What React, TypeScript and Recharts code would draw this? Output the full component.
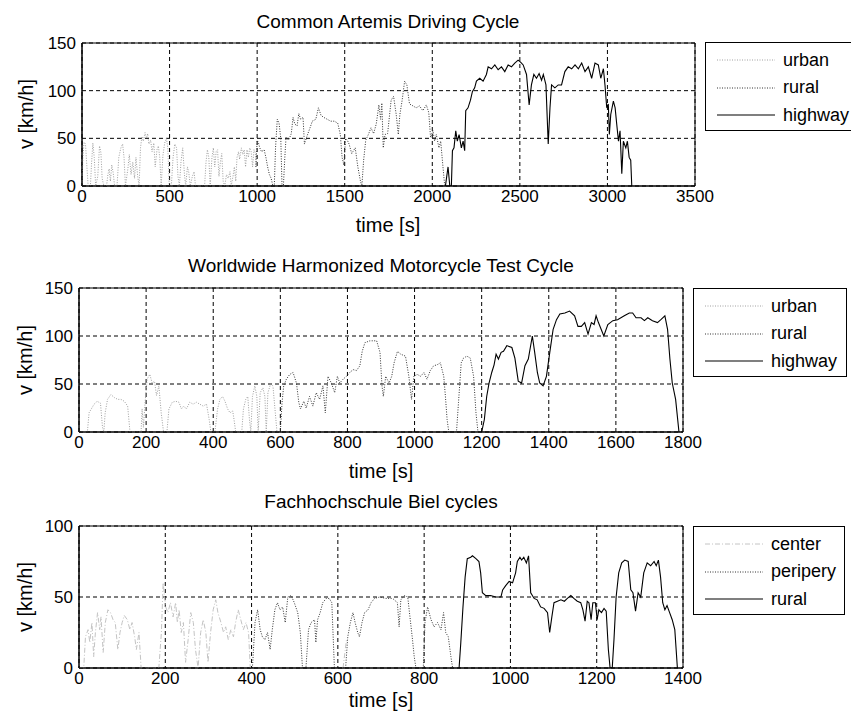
import { LineChart, Line, XAxis, YAxis, CartesianGrid, ReferenceArea } from 'recharts';

type Pt = [number, number | null];

// Common Artemis Driving Cycle (t [s], v [km/h])
const cadcUrban: Pt[] = [
  [0, 0], [5, 30], [12, 46], [20, 44], [28, 20], [35, 0], [48, 0], [55, 25], [62, 45], [70, 30], [78, 0],
  [90, 10], [100, 42], [108, 35], [115, 8], [125, 0], [140, 0], [148, 12], [155, 18], [162, 5], [170, 22],
  [178, 14], [186, 0], [200, 0], [210, 30], [222, 40], [232, 44], [240, 30], [248, 0], [262, 18], [270, 33],
  [280, 12], [290, 25], [300, 8], [308, 30], [318, 10], [326, 0], [334, 40], [342, 52], [350, 47], [360, 56],
  [368, 50], [375, 55], [382, 44], [392, 48], [400, 36], [410, 45], [418, 20], [428, 38], [436, 42], [444, 30],
  [452, 0], [462, 32], [472, 45], [482, 50], [490, 40], [498, 0], [510, 0], [520, 30], [530, 44], [540, 40],
  [548, 10], [556, 0], [565, 25], [575, 40], [585, 12], [592, 0], [602, 20], [610, 14], [618, 0], [630, 10],
  [640, 15], [648, 0], [700, 0], [708, 25], [716, 38], [724, 30], [732, 0], [742, 30], [750, 40], [758, 20],
  [766, 36], [774, 38], [782, 10], [790, 25], [798, 34], [806, 5], [815, 0], [825, 12], [835, 8], [845, 15],
  [852, 0], [862, 10], [870, 20], [878, 5], [885, 30], [894, 36], [900, 28], [910, 40], [918, 33], [926, 38],
  [934, 20], [942, 38], [950, 30], [958, 40], [966, 36], [974, 20], [982, 38], [990, 35], [993, 20],
];
const cadcRural: Pt[] = [
  [993, 20], [1000, 48], [1008, 45], [1015, 40], [1025, 36], [1040, 38], [1050, 30], [1060, 20], [1070, 12],
  [1080, 8], [1090, 0], [1098, 0], [1105, 40], [1115, 70], [1125, 66], [1135, 50], [1142, 0], [1150, 0],
  [1158, 30], [1165, 51], [1180, 48], [1195, 55], [1205, 72], [1215, 65], [1228, 63], [1238, 76], [1248, 70],
  [1262, 72], [1270, 44], [1282, 51], [1300, 60], [1315, 68], [1335, 70], [1350, 82], [1365, 74], [1380, 72],
  [1400, 70], [1420, 68], [1440, 68], [1460, 66], [1475, 54], [1485, 30], [1495, 22], [1505, 50], [1515, 48],
  [1525, 44], [1540, 34], [1560, 40], [1575, 20], [1590, 5], [1598, 0], [1608, 27], [1620, 48], [1635, 54],
  [1650, 61], [1665, 55], [1680, 65], [1695, 85], [1705, 70], [1712, 87], [1720, 40], [1730, 54], [1745, 55],
  [1765, 90], [1779, 94], [1794, 75], [1806, 54], [1815, 75], [1828, 90], [1842, 110], [1855, 106], [1870, 86],
  [1890, 84], [1908, 82], [1927, 84], [1946, 79], [1966, 85], [1980, 77], [1990, 51], [2004, 58], [2013, 47],
  [2023, 54], [2038, 40], [2048, 47], [2061, 20], [2071, 0],
];
const cadcHighway: Pt[] = [
  [2075, 0], [2090, 20], [2100, 0], [2109, 0], [2115, 37], [2124, 40], [2134, 58], [2143, 47], [2153, 54],
  [2166, 40], [2176, 47], [2185, 37], [2191, 79], [2204, 82], [2218, 90], [2229, 99], [2242, 103], [2252, 110],
  [2271, 113], [2290, 110], [2309, 117], [2319, 125], [2338, 123], [2357, 127], [2376, 122], [2395, 125],
  [2414, 120], [2433, 127], [2452, 125], [2471, 129], [2490, 132], [2504, 130], [2519, 127], [2538, 117],
  [2553, 85], [2566, 106], [2580, 117], [2595, 113], [2610, 118], [2624, 111], [2634, 117], [2649, 106],
  [2662, 44], [2672, 82], [2681, 106], [2700, 103], [2719, 106], [2738, 106], [2757, 120], [2776, 125],
  [2796, 123], [2815, 127], [2834, 123], [2853, 129], [2872, 120], [2891, 125], [2910, 113], [2929, 129],
  [2948, 127], [2962, 113], [2977, 123], [2986, 106], [2996, 82], [3005, 86], [3011, 54], [3019, 75],
  [3034, 89], [3044, 82], [3053, 65], [3063, 47], [3072, 58], [3082, 13], [3091, 47], [3105, 40], [3114, 47],
  [3124, 30], [3133, 27], [3139, 0],
];

// Worldwide Harmonized Motorcycle Test Cycle
const wmtcUrban: Pt[] = [
  [0, 0], [25, 0], [30, 20], [45, 29], [54, 32], [64, 30], [70, 5], [74, 0], [78, 20], [85, 34], [95, 39],
  [105, 36], [115, 34], [125, 34], [135, 32], [145, 27], [152, 0], [185, 0], [188, 24], [192, 5], [197, 31],
  [203, 55], [211, 60], [218, 51], [225, 53], [231, 38], [238, 48], [245, 20], [252, 0], [262, 0], [268, 24],
  [278, 31], [288, 32], [298, 31], [305, 24], [312, 27], [320, 24], [330, 31], [340, 29], [350, 31], [360, 29],
  [370, 27], [380, 29], [388, 13], [393, 0], [405, 0], [413, 24], [420, 34], [428, 37], [435, 32], [443, 24],
  [450, 20], [458, 22], [462, 13], [467, 0], [485, 0], [490, 24], [497, 34], [503, 37], [508, 13], [512, 0],
  [517, 37], [524, 48], [530, 37], [534, 0], [540, 41], [548, 46], [554, 37], [558, 0], [563, 41], [571, 50],
  [578, 48], [585, 20], [590, 0], [600, 0],
];
const wmtcRural: Pt[] = [
  [600, 0], [605, 30], [610, 48], [618, 55], [628, 60], [638, 62], [648, 51], [655, 31], [660, 24], [670, 32],
  [677, 25], [687, 37], [697, 27], [707, 41], [717, 34], [727, 48], [734, 20], [742, 58], [752, 51], [762, 41],
  [770, 58], [777, 51], [787, 55], [797, 58], [807, 62], [817, 65], [827, 64], [837, 69], [844, 84], [852, 93],
  [867, 95], [887, 95], [897, 83], [903, 48], [907, 37], [914, 58], [924, 51], [932, 58], [939, 72], [949, 84],
  [959, 81], [973, 79], [983, 58], [991, 34], [998, 58], [1008, 60], [1018, 58], [1028, 62], [1037, 55],
  [1047, 64], [1057, 69], [1067, 70], [1077, 72], [1087, 58], [1092, 37], [1097, 13], [1102, 0], [1125, 0],
  [1131, 31], [1139, 72], [1146, 77], [1156, 79], [1166, 77], [1176, 58], [1183, 20], [1189, 0], [1200, 0],
];
const wmtcHighway: Pt[] = [
  [1200, 0], [1208, 13], [1215, 37], [1222, 51], [1230, 62], [1237, 70], [1243, 81], [1250, 76], [1258, 83],
  [1265, 84], [1275, 90], [1290, 88], [1299, 77], [1309, 53], [1319, 51], [1329, 69], [1339, 76], [1351, 100],
  [1358, 83], [1366, 62], [1373, 51], [1383, 48], [1393, 58], [1403, 83], [1413, 107], [1423, 117], [1433, 123],
  [1448, 124], [1462, 126], [1477, 121], [1487, 110], [1497, 110], [1507, 114], [1517, 102], [1527, 114],
  [1535, 112], [1541, 121], [1548, 114], [1556, 107], [1564, 100], [1576, 112], [1591, 116], [1605, 117],
  [1625, 121], [1640, 124], [1650, 124], [1660, 119], [1675, 119], [1685, 116], [1695, 119], [1709, 116],
  [1724, 114], [1734, 117], [1746, 121], [1754, 107], [1761, 76], [1768, 51], [1778, 34], [1788, 0],
];

// Fachhochschule Biel cycles
const bielCenter: Pt[] = [
  [0, 0], [11, 0], [15, 22], [21, 27], [25, 18], [30, 32], [34, 8], [38, 25], [43, 39], [48, 27], [51, 36],
  [56, 11], [61, 32], [67, 41], [73, 39], [79, 34], [84, 32], [90, 13], [95, 25], [100, 32], [105, 37],
  [112, 34], [118, 27], [123, 32], [129, 22], [133, 13], [139, 25], [144, 0], [185, 0], [191, 25], [195, 60],
  [201, 43], [206, 39], [212, 46], [218, 36], [224, 46], [228, 32], [232, 41], [237, 25], [242, 32], [247, 4],
  [253, 20], [259, 39], [265, 32], [270, 13], [276, 0], [282, 25], [288, 34], [294, 25], [299, 4], [305, 25],
  [311, 41], [317, 48], [322, 39], [329, 32], [335, 25], [340, 29], [346, 20], [352, 27], [358, 22], [363, 32],
  [369, 41], [375, 34], [381, 27], [387, 32], [393, 25], [397, 0], [398, null], [612, 0], [620, 20],
];
const bielPeriphery: Pt[] = [
  [402, 0], [408, 32], [414, 41], [420, 27], [425, 22], [431, 20], [437, 25], [443, 13], [448, 27], [454, 41],
  [460, 46], [466, 41], [472, 43], [478, 32], [484, 50], [492, 51], [499, 46], [507, 39], [513, 25], [518, 0],
  [526, 0], [532, 27], [538, 32], [546, 34], [549, 18], [553, 34], [559, 39], [565, 46], [573, 49], [580, 49],
  [586, 46], [592, 0], [618, 0], [623, 22], [629, 32], [635, 39], [640, 32], [646, 25], [650, 22], [656, 32],
  [662, 39], [670, 41], [677, 46], [685, 49], [697, 50], [711, 49], [727, 49], [738, 46], [742, 29], [746, 48],
  [754, 51], [762, 50], [766, 39], [773, 20], [777, 8], [781, 0], [798, 0], [802, 32], [808, 43], [816, 34],
  [823, 29], [831, 32], [839, 27], [845, 39], [850, 25], [856, 22], [862, 8], [866, 0],
];
const bielRural: Pt[] = [
  [881, 0], [885, 18], [890, 43], [895, 64], [900, 77], [908, 78], [912, 79], [920, 77], [927, 75], [931, 67],
  [935, 53], [943, 51], [954, 51], [966, 50], [978, 50], [982, 55], [989, 58], [997, 61], [1005, 60], [1012, 67],
  [1016, 75], [1022, 78], [1026, 76], [1031, 78], [1037, 74], [1042, 79], [1047, 53], [1055, 49], [1062, 48],
  [1070, 43], [1078, 42], [1086, 39], [1091, 25], [1096, 36], [1101, 46], [1109, 47], [1117, 48], [1125, 47],
  [1132, 49], [1140, 51], [1147, 49], [1155, 47], [1163, 46], [1168, 41], [1173, 33], [1178, 47], [1182, 46],
  [1187, 34], [1191, 46], [1197, 46], [1201, 34], [1205, 41], [1211, 39], [1217, 42], [1222, 40], [1227, 13],
  [1231, 0], [1236, 0], [1240, 20], [1245, 50], [1251, 67], [1258, 74], [1265, 76], [1273, 75], [1279, 55],
  [1284, 53], [1290, 40], [1296, 53], [1302, 50], [1309, 67], [1317, 74], [1325, 72], [1333, 75], [1338, 72],
  [1343, 76], [1348, 64], [1353, 46], [1358, 41], [1363, 44], [1369, 39], [1375, 34], [1381, 27], [1387, 0],
];

const cadcTicks = [0, 500, 1000, 1500, 2000, 2500, 3000, 3500];
const wmtcTicks = [0, 200, 400, 600, 800, 1000, 1200, 1400, 1600, 1800];
const bielTicks = [0, 200, 400, 600, 800, 1000, 1200, 1400];
const v150Ticks = [0, 50, 100, 150];
const v100Ticks = [0, 50, 100];

const FONT = '"Liberation Sans", Arial, Helvetica, sans-serif';

const URBAN = { stroke: '#a0a0a0', dash: '1 1.5', width: 1 };
const RURAL = { stroke: '#333', dash: '1 1.5', width: 1 };
const SOLID = { stroke: '#000', dash: undefined, width: 1.1 };
const CENTER = { stroke: '#c4c4c4', dash: '5 2 1 2', width: 1 };

const toRows = (pts: Pt[]) => pts.map(([t, v]) => ({ t, v }));

type Series = { name: string; pts: Pt[]; style: { stroke: string; dash?: string; width: number } };

function Panel(props: {
  top: number;
  ml: number;
  mr: number;
  mb: number;
  xMax: number;
  xTicks: number[];
  yMax: number;
  yTicks: number[];
  series: Series[];
}) {
  const { top, ml, mr, mb, xMax, xTicks, yMax, yTicks, series } = props;
  const tick = { fill: '#000', fontSize: 17, fontFamily: FONT };
  return (
    <div style={{ position: 'absolute', left: 0, top }}>
      <LineChart width={740} height={230} margin={{ top: 43, right: mr, bottom: mb, left: ml }}>
        <CartesianGrid stroke="#000" strokeDasharray="4 3" strokeWidth={1} />
        <XAxis
          dataKey="t"
          type="number"
          domain={[0, xMax]}
          ticks={xTicks}
          allowDataOverflow
          height={30}
          tickSize={0}
          tickMargin={4}
          tick={tick}
          axisLine={{ stroke: '#000' }}
          interval={0}
        />
        <YAxis
          type="number"
          domain={[0, yMax]}
          ticks={yTicks}
          allowDataOverflow
          width={40}
          tickSize={0}
          tickMargin={6}
          tick={tick}
          axisLine={{ stroke: '#000' }}
          interval={0}
        />
        {series.map((s) => (
          <Line
            key={s.name}
            data={toRows(s.pts)}
            dataKey="v"
            type="linear"
            dot={false}
            activeDot={false}
            stroke={s.style.stroke}
            strokeDasharray={s.style.dash}
            strokeWidth={s.style.width}
            isAnimationActive={false}
          />
        ))}
        <ReferenceArea x1={0} x2={xMax} y1={0} y2={yMax} fill="none" stroke="#000" strokeWidth={1} />
      </LineChart>
    </div>
  );
}

function LegendBox(props: { left: number; top: number; width: number; series: Series[] }) {
  return (
    <div
      style={{
        position: 'absolute',
        left: props.left,
        top: props.top,
        width: props.width,
        height: 87,
        border: '1px solid #000',
        background: '#fff',
        fontFamily: FONT,
        fontSize: 18,
      }}
    >
      {props.series.map((s, i) => (
        <div
          key={s.name}
          style={{ position: 'absolute', left: 0, top: 6 + i * 27.5, height: 22, display: 'flex', alignItems: 'center' }}
        >
          <svg width={70} height={22}>
            <line x1={11} x2={69} y1={11} y2={11} stroke={s.style.stroke} strokeDasharray={s.style.dash} strokeWidth={s.style.width} />
          </svg>
          <span style={{ marginLeft: 7, whiteSpace: 'nowrap' }}>{s.name}</span>
        </div>
      ))}
    </div>
  );
}

function Text(props: { x: number; y: number; size: number; rotate?: boolean; children: string }) {
  return (
    <div
      style={{
        position: 'absolute',
        left: props.x,
        top: props.y,
        transform: `translate(-50%, -50%)${props.rotate ? ' rotate(-90deg)' : ''}`,
        fontFamily: FONT,
        fontSize: props.size,
        whiteSpace: 'nowrap',
        color: '#000',
      }}
    >
      {props.children}
    </div>
  );
}

export default function App() {
  const cadc: Series[] = [
    { name: 'urban', pts: cadcUrban, style: URBAN },
    { name: 'rural', pts: cadcRural, style: RURAL },
    { name: 'highway', pts: cadcHighway, style: SOLID },
  ];
  const wmtc: Series[] = [
    { name: 'urban', pts: wmtcUrban, style: URBAN },
    { name: 'rural', pts: wmtcRural, style: RURAL },
    { name: 'highway', pts: wmtcHighway, style: SOLID },
  ];
  const biel: Series[] = [
    { name: 'center', pts: bielCenter, style: CENTER },
    { name: 'peripery', pts: bielPeriphery, style: RURAL },
    { name: 'rural', pts: bielRural, style: SOLID },
  ];
  return (
    <div style={{ position: 'absolute', left: 0, top: 0, width: 851, height: 717, overflow: 'hidden', background: '#fff' }}>
      <Panel top={0} ml={42} mr={45} mb={14} xMax={3500} xTicks={cadcTicks} yMax={150} yTicks={v150Ticks} series={cadc} />
      <Panel top={245} ml={39} mr={57} mb={13} xMax={1800} xTicks={wmtcTicks} yMax={150} yTicks={v150Ticks} series={wmtc} />
      <Panel top={483} ml={39} mr={57} mb={15} xMax={1400} xTicks={bielTicks} yMax={100} yTicks={v100Ticks} series={biel} />

      <Text x={388} y={22} size={19}>Common Artemis Driving Cycle</Text>
      <Text x={381} y={266} size={19}>Worldwide Harmonized Motorcycle Test Cycle</Text>
      <Text x={381} y={502} size={19}>Fachhochschule Biel cycles</Text>

      <Text x={388} y={225} size={20}>time [s]</Text>
      <Text x={381} y={471} size={20}>time [s]</Text>
      <Text x={381} y={700} size={20}>time [s]</Text>

      <Text x={26} y={114} size={20} rotate>v [km/h]</Text>
      <Text x={25} y={360} size={20} rotate>v [km/h]</Text>
      <Text x={25} y={597} size={20} rotate>v [km/h]</Text>

      <LegendBox left={705} top={42} width={152} series={cadc} />
      <LegendBox left={693} top={288} width={152} series={wmtc} />
      <LegendBox left={693} top={526} width={150} series={biel} />
    </div>
  );
}
